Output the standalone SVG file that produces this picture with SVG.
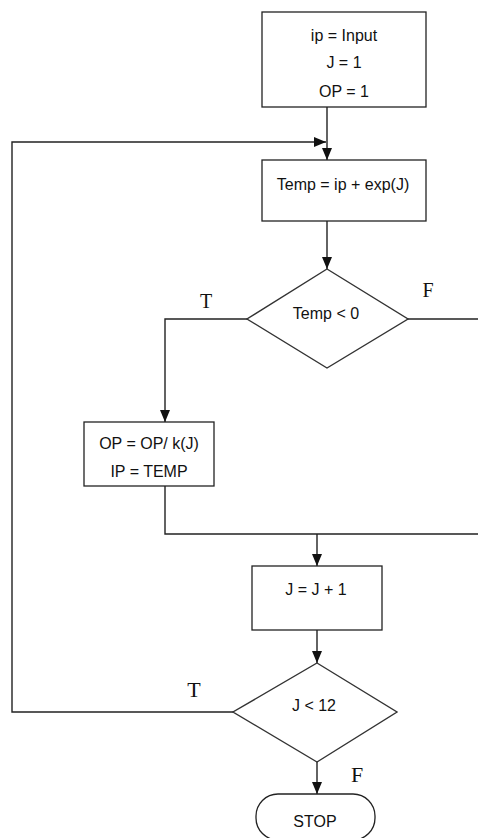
<svg xmlns="http://www.w3.org/2000/svg" width="478" height="838" viewBox="0 0 478 838">
<style>
.box{fill:#fff;stroke:#222;stroke-width:1.3}
.dia{fill:#fff;stroke:#333;stroke-width:1.4}
.con{fill:none;stroke:#222;stroke-width:1.4}
.t{font-family:"Liberation Sans",Arial,sans-serif;font-size:16px;fill:#111;text-anchor:middle}
.lbl{font-family:"Liberation Serif","Times New Roman",serif;font-size:20px;fill:#111;text-anchor:middle}
</style>
<defs>
<marker id="arr" markerUnits="userSpaceOnUse" markerWidth="12" markerHeight="10" refX="12" refY="5" orient="auto">
<path d="M0,0 L12,5 L0,10 z" fill="#111"/>
</marker>
</defs>
<rect width="478" height="838" fill="#fff"/>
<g id="connectors">
<path class="con" d="M327,107 V160" marker-end="url(#arr)"/>
<path class="con" d="M233,712 H12 V142 H326" marker-end="url(#arr)"/>
<path class="con" d="M327,221 V269" marker-end="url(#arr)"/>
<path class="con" d="M247,319 H165 V422" marker-end="url(#arr)"/>
<path class="con" d="M408,319 H478"/>
<path class="con" d="M165,486 V534 H478"/>
<path class="con" d="M317,534 V566" marker-end="url(#arr)"/>
<path class="con" d="M317,630 V663" marker-end="url(#arr)"/>
<path class="con" d="M317,762 V794" marker-end="url(#arr)"/>
</g>
<g id="labels">
<text class="lbl" x="206" y="308">T</text>
<text class="lbl" x="428" y="297">F</text>
<text class="lbl" x="194" y="697" style="font-size:22px">T</text>
<text class="lbl" x="357" y="782" style="font-size:22px">F</text>
</g>
<g id="init">
<rect class="box" x="262" y="12" width="164" height="95"/>
<text class="t" x="344" y="41">ip = Input</text>
<text class="t" x="344" y="68">J = 1</text>
<text class="t" x="344" y="97">OP = 1</text>
</g>
<g id="temp">
<rect class="box" x="262" y="160" width="164" height="61"/>
<text class="t" x="343" y="190">Temp = ip + exp(J)</text>
</g>
<g id="cond1">
<polygon class="dia" points="327,269 408,319 327,368 247,319"/>
<text class="t" x="326" y="319">Temp &lt; 0</text>
</g>
<g id="update">
<rect class="box" x="84" y="422" width="130" height="64"/>
<text class="t" x="149" y="449">OP = OP/ k(J)</text>
<text class="t" x="149" y="477">IP = TEMP</text>
</g>
<g id="incr">
<rect class="box" x="252" y="566" width="130" height="64"/>
<text class="t" x="316" y="595">J = J + 1</text>
</g>
<g id="cond2">
<polygon class="dia" points="317,663 397,712 317,762 233,712"/>
<text class="t" x="314" y="711">J &lt; 12</text>
</g>
<g id="stop">
<rect class="box" x="256" y="794" width="119" height="46" rx="22" ry="22"/>
<text class="t" x="315" y="827">STOP</text>
</g>
</svg>
